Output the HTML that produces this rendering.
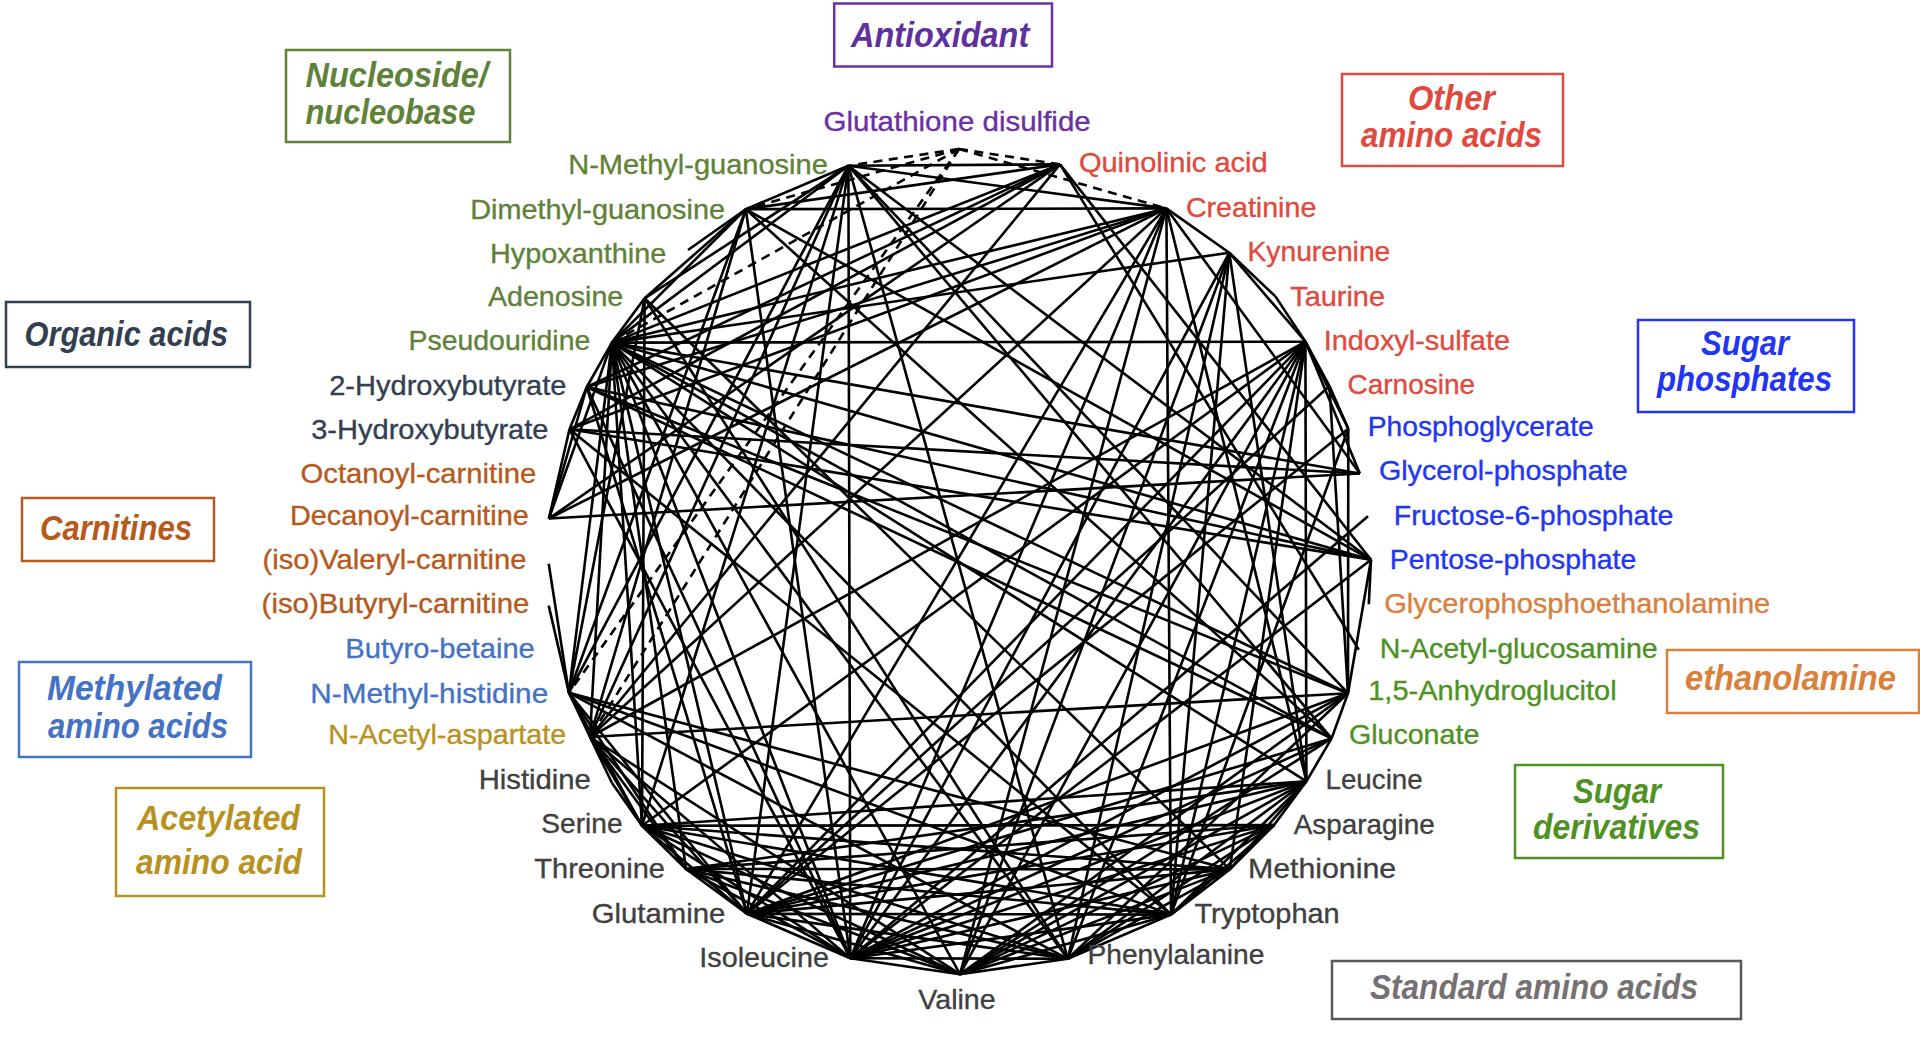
<!DOCTYPE html><html lang="en"><head><meta charset="utf-8"><title>Metabolite network</title>
<style>html,body{margin:0;padding:0;background:#fff;}body{width:1920px;height:1038px;overflow:hidden;}svg{display:block;}text{font-family:"Liberation Sans",sans-serif;}</style></head><body>
<svg width="1920" height="1038" viewBox="0 0 1920 1038">
<rect width="1920" height="1038" fill="#ffffff"/>
<g stroke="#000" stroke-width="2.6" stroke-linecap="butt" fill="none">
<line x1="586.8" y1="387" x2="569.5" y2="429.3"/>
<line x1="586.8" y1="387" x2="1348" y2="693.2"/>
<line x1="586.8" y1="387" x2="1166.4" y2="208.4"/>
<line x1="586.8" y1="387" x2="548.9" y2="518.5"/>
<line x1="586.8" y1="387" x2="1331.6" y2="738.4"/>
<line x1="586.8" y1="387" x2="746.9" y2="913.8"/>
<line x1="586.8" y1="387" x2="850.3" y2="958.2"/>
<line x1="586.8" y1="387" x2="1371" y2="559.8"/>
<line x1="586.8" y1="387" x2="611.9" y2="342.6"/>
<line x1="586.8" y1="387" x2="1060" y2="164.4"/>
<line x1="569.5" y1="429.3" x2="1166.4" y2="208.4"/>
<line x1="569.5" y1="429.3" x2="548.9" y2="518.5"/>
<line x1="569.5" y1="429.3" x2="1359.8" y2="473.5"/>
<line x1="569.5" y1="429.3" x2="850.3" y2="958.2"/>
<line x1="569.5" y1="429.3" x2="1371" y2="559.8"/>
<line x1="569.5" y1="429.3" x2="1060" y2="164.4"/>
<line x1="569.5" y1="429.3" x2="1171" y2="914.6"/>
<line x1="644.6" y1="298.3" x2="745.8" y2="209.2"/>
<line x1="644.6" y1="298.3" x2="1229.8" y2="869.4"/>
<line x1="644.6" y1="298.3" x2="848.4" y2="165.7"/>
<line x1="644.6" y1="298.3" x2="568.9" y2="692.8"/>
<line x1="644.6" y1="298.3" x2="1067.8" y2="958.8"/>
<line x1="644.6" y1="298.3" x2="611.9" y2="342.6"/>
<line x1="644.6" y1="298.3" x2="642" y2="825.7"/>
<line x1="1348" y1="693.2" x2="1329.5" y2="386"/>
<line x1="1348" y1="693.2" x2="1331.6" y2="738.4"/>
<line x1="1348" y1="693.2" x2="746.9" y2="913.8"/>
<line x1="1348" y1="693.2" x2="850.3" y2="958.2"/>
<line x1="1348" y1="693.2" x2="590" y2="737"/>
<line x1="1348" y1="693.2" x2="848.4" y2="165.7"/>
<line x1="1348" y1="693.2" x2="1348.3" y2="428.8"/>
<line x1="1348" y1="693.2" x2="1067.8" y2="958.8"/>
<line x1="1348" y1="693.2" x2="1371" y2="559.8"/>
<line x1="1348" y1="693.2" x2="611.9" y2="342.6"/>
<line x1="1348" y1="693.2" x2="960" y2="974.2"/>
<line x1="1274.1" y1="825.1" x2="746.9" y2="913.8"/>
<line x1="1274.1" y1="825.1" x2="850.3" y2="958.2"/>
<line x1="1274.1" y1="825.1" x2="1306.4" y2="781.3"/>
<line x1="1274.1" y1="825.1" x2="1229.8" y2="869.4"/>
<line x1="1274.1" y1="825.1" x2="1067.8" y2="958.8"/>
<line x1="1274.1" y1="825.1" x2="642" y2="825.7"/>
<line x1="1274.1" y1="825.1" x2="686" y2="869"/>
<line x1="1274.1" y1="825.1" x2="1171" y2="914.6"/>
<line x1="1274.1" y1="825.1" x2="960" y2="974.2"/>
<line x1="1329.5" y1="386" x2="746.9" y2="913.8"/>
<line x1="1329.5" y1="386" x2="1305.4" y2="341.7"/>
<line x1="1329.5" y1="386" x2="1348.3" y2="428.8"/>
<line x1="1166.4" y1="208.4" x2="548.9" y2="518.5"/>
<line x1="1166.4" y1="208.4" x2="745.8" y2="209.2"/>
<line x1="1166.4" y1="208.4" x2="746.9" y2="913.8"/>
<line x1="1166.4" y1="208.4" x2="1359.8" y2="473.5"/>
<line x1="1166.4" y1="208.4" x2="850.3" y2="958.2"/>
<line x1="1166.4" y1="208.4" x2="1229.3" y2="252.7"/>
<line x1="1166.4" y1="208.4" x2="1306.4" y2="781.3"/>
<line x1="1166.4" y1="208.4" x2="590" y2="737"/>
<line x1="1166.4" y1="208.4" x2="848.4" y2="165.7"/>
<line x1="1166.4" y1="208.4" x2="611.9" y2="342.6"/>
<line x1="1166.4" y1="208.4" x2="1171" y2="914.6"/>
<line x1="1166.4" y1="208.4" x2="960" y2="974.2"/>
<line x1="548.9" y1="518.5" x2="1359.8" y2="473.5"/>
<line x1="548.9" y1="518.5" x2="611.9" y2="342.6"/>
<line x1="548.9" y1="518.5" x2="1060" y2="164.4"/>
<line x1="745.8" y1="209.2" x2="1331.6" y2="738.4"/>
<line x1="745.8" y1="209.2" x2="688" y2="250"/>
<line x1="745.8" y1="209.2" x2="850.3" y2="958.2"/>
<line x1="745.8" y1="209.2" x2="590" y2="737"/>
<line x1="745.8" y1="209.2" x2="848.4" y2="165.7"/>
<line x1="745.8" y1="209.2" x2="568.9" y2="692.8"/>
<line x1="745.8" y1="209.2" x2="1371" y2="559.8"/>
<line x1="745.8" y1="209.2" x2="611.9" y2="342.6"/>
<line x1="745.8" y1="209.2" x2="1060" y2="164.4"/>
<line x1="1368" y1="516.3" x2="850.3" y2="958.2"/>
<line x1="1331.6" y1="738.4" x2="746.9" y2="913.8"/>
<line x1="1331.6" y1="738.4" x2="850.3" y2="958.2"/>
<line x1="1331.6" y1="738.4" x2="1306.4" y2="781.3"/>
<line x1="1331.6" y1="738.4" x2="848.4" y2="165.7"/>
<line x1="1331.6" y1="738.4" x2="611.9" y2="342.6"/>
<line x1="1331.6" y1="738.4" x2="960" y2="974.2"/>
<line x1="746.9" y1="913.8" x2="850.3" y2="958.2"/>
<line x1="746.9" y1="913.8" x2="1305.4" y2="341.7"/>
<line x1="746.9" y1="913.8" x2="1306.4" y2="781.3"/>
<line x1="746.9" y1="913.8" x2="1229.8" y2="869.4"/>
<line x1="746.9" y1="913.8" x2="590" y2="737"/>
<line x1="746.9" y1="913.8" x2="848.4" y2="165.7"/>
<line x1="746.9" y1="913.8" x2="568.9" y2="692.8"/>
<line x1="746.9" y1="913.8" x2="1348.3" y2="428.8"/>
<line x1="746.9" y1="913.8" x2="1067.8" y2="958.8"/>
<line x1="746.9" y1="913.8" x2="611.9" y2="342.6"/>
<line x1="746.9" y1="913.8" x2="642" y2="825.7"/>
<line x1="746.9" y1="913.8" x2="686" y2="869"/>
<line x1="746.9" y1="913.8" x2="1171" y2="914.6"/>
<line x1="746.9" y1="913.8" x2="960" y2="974.2"/>
<line x1="1359.8" y1="473.5" x2="1305.4" y2="341.7"/>
<line x1="1359.8" y1="473.5" x2="611.9" y2="342.6"/>
<line x1="1368.8" y1="604.3" x2="1371" y2="559.8"/>
<line x1="612" y1="783" x2="590" y2="737"/>
<line x1="612" y1="783" x2="642" y2="825.7"/>
<line x1="548.7" y1="605.6" x2="568.9" y2="692.8"/>
<line x1="850.3" y1="958.2" x2="1305.4" y2="341.7"/>
<line x1="850.3" y1="958.2" x2="1229.3" y2="252.7"/>
<line x1="850.3" y1="958.2" x2="1306.4" y2="781.3"/>
<line x1="850.3" y1="958.2" x2="1229.8" y2="869.4"/>
<line x1="850.3" y1="958.2" x2="590" y2="737"/>
<line x1="850.3" y1="958.2" x2="848.4" y2="165.7"/>
<line x1="850.3" y1="958.2" x2="1067.8" y2="958.8"/>
<line x1="850.3" y1="958.2" x2="1371" y2="559.8"/>
<line x1="850.3" y1="958.2" x2="611.9" y2="342.6"/>
<line x1="850.3" y1="958.2" x2="642" y2="825.7"/>
<line x1="850.3" y1="958.2" x2="686" y2="869"/>
<line x1="850.3" y1="958.2" x2="1171" y2="914.6"/>
<line x1="850.3" y1="958.2" x2="960" y2="974.2"/>
<line x1="1305.4" y1="341.7" x2="1229.3" y2="252.7"/>
<line x1="1305.4" y1="341.7" x2="1306.4" y2="781.3"/>
<line x1="1305.4" y1="341.7" x2="1229.8" y2="869.4"/>
<line x1="1305.4" y1="341.7" x2="590" y2="737"/>
<line x1="1305.4" y1="341.7" x2="1348.3" y2="428.8"/>
<line x1="1305.4" y1="341.7" x2="1067.8" y2="958.8"/>
<line x1="1305.4" y1="341.7" x2="611.9" y2="342.6"/>
<line x1="1305.4" y1="341.7" x2="642" y2="825.7"/>
<line x1="1305.4" y1="341.7" x2="1275.4" y2="296.4"/>
<line x1="1305.4" y1="341.7" x2="1171" y2="914.6"/>
<line x1="1305.4" y1="341.7" x2="960" y2="974.2"/>
<line x1="548.7" y1="563.8" x2="568.9" y2="692.8"/>
<line x1="1229.3" y1="252.7" x2="1306.4" y2="781.3"/>
<line x1="1229.3" y1="252.7" x2="1067.8" y2="958.8"/>
<line x1="1229.3" y1="252.7" x2="611.9" y2="342.6"/>
<line x1="1229.3" y1="252.7" x2="1275.4" y2="296.4"/>
<line x1="1229.3" y1="252.7" x2="1171" y2="914.6"/>
<line x1="1229.3" y1="252.7" x2="960" y2="974.2"/>
<line x1="1306.4" y1="781.3" x2="1229.8" y2="869.4"/>
<line x1="1306.4" y1="781.3" x2="1067.8" y2="958.8"/>
<line x1="1306.4" y1="781.3" x2="611.9" y2="342.6"/>
<line x1="1306.4" y1="781.3" x2="642" y2="825.7"/>
<line x1="1306.4" y1="781.3" x2="686" y2="869"/>
<line x1="1306.4" y1="781.3" x2="1171" y2="914.6"/>
<line x1="1306.4" y1="781.3" x2="960" y2="974.2"/>
<line x1="1229.8" y1="869.4" x2="568.9" y2="692.8"/>
<line x1="1229.8" y1="869.4" x2="1067.8" y2="958.8"/>
<line x1="1229.8" y1="869.4" x2="642" y2="825.7"/>
<line x1="1229.8" y1="869.4" x2="686" y2="869"/>
<line x1="1229.8" y1="869.4" x2="1171" y2="914.6"/>
<line x1="1229.8" y1="869.4" x2="960" y2="974.2"/>
<line x1="590" y1="737" x2="848.4" y2="165.7"/>
<line x1="590" y1="737" x2="568.9" y2="692.8"/>
<line x1="590" y1="737" x2="611.9" y2="342.6"/>
<line x1="590" y1="737" x2="1060" y2="164.4"/>
<line x1="590" y1="737" x2="642" y2="825.7"/>
<line x1="590" y1="737" x2="686" y2="869"/>
<line x1="590" y1="737" x2="960" y2="974.2"/>
<line x1="1358.8" y1="649.7" x2="1060" y2="164.4"/>
<line x1="848.4" y1="165.7" x2="568.9" y2="692.8"/>
<line x1="848.4" y1="165.7" x2="1067.8" y2="958.8"/>
<line x1="848.4" y1="165.7" x2="1371" y2="559.8"/>
<line x1="848.4" y1="165.7" x2="611.9" y2="342.6"/>
<line x1="848.4" y1="165.7" x2="1060" y2="164.4"/>
<line x1="848.4" y1="165.7" x2="642" y2="825.7"/>
<line x1="568.9" y1="692.8" x2="1067.8" y2="958.8"/>
<line x1="568.9" y1="692.8" x2="611.9" y2="342.6"/>
<line x1="568.9" y1="692.8" x2="642" y2="825.7"/>
<line x1="568.9" y1="692.8" x2="686" y2="869"/>
<line x1="568.9" y1="692.8" x2="1171" y2="914.6"/>
<line x1="1348.3" y1="428.8" x2="1171" y2="914.6"/>
<line x1="1067.8" y1="958.8" x2="611.9" y2="342.6"/>
<line x1="1067.8" y1="958.8" x2="642" y2="825.7"/>
<line x1="1067.8" y1="958.8" x2="686" y2="869"/>
<line x1="1067.8" y1="958.8" x2="1171" y2="914.6"/>
<line x1="1067.8" y1="958.8" x2="960" y2="974.2"/>
<line x1="1371" y1="559.8" x2="611.9" y2="342.6"/>
<line x1="1371" y1="559.8" x2="1060" y2="164.4"/>
<line x1="611.9" y1="342.6" x2="1060" y2="164.4"/>
<line x1="611.9" y1="342.6" x2="642" y2="825.7"/>
<line x1="611.9" y1="342.6" x2="686" y2="869"/>
<line x1="611.9" y1="342.6" x2="1171" y2="914.6"/>
<line x1="611.9" y1="342.6" x2="960" y2="974.2"/>
<line x1="642" y1="825.7" x2="686" y2="869"/>
<line x1="642" y1="825.7" x2="1171" y2="914.6"/>
<line x1="642" y1="825.7" x2="960" y2="974.2"/>
<line x1="686" y1="869" x2="1171" y2="914.6"/>
<line x1="686" y1="869" x2="960" y2="974.2"/>
<line x1="1171" y1="914.6" x2="960" y2="974.2"/>
</g>
<g stroke="#000" stroke-width="2.6" stroke-dasharray="9 6.5" fill="none">
<line x1="959" y1="149" x2="848.4" y2="165.7"/>
<line x1="959" y1="149" x2="745.8" y2="209.2"/>
<line x1="959" y1="149" x2="611.9" y2="342.6"/>
<line x1="959" y1="149" x2="568.9" y2="692.8"/>
<line x1="959" y1="149" x2="590" y2="737"/>
<line x1="959" y1="149" x2="1060" y2="164.4"/>
<line x1="959" y1="149" x2="1166.4" y2="208.4"/>
</g>
<g font-size="27.8">
<text x="823.5" y="130.5" fill="#6B30A3" stroke="#6B30A3" stroke-width="0.35" textLength="267.2" lengthAdjust="spacingAndGlyphs">Glutathione disulfide</text>
<text x="1078.9" y="172.3" fill="#E04A3E" stroke="#E04A3E" stroke-width="0.35" textLength="188.8" lengthAdjust="spacingAndGlyphs">Quinolinic acid</text>
<text x="1185.9" y="216.8" fill="#E04A3E" stroke="#E04A3E" stroke-width="0.35" textLength="130.4" lengthAdjust="spacingAndGlyphs">Creatinine</text>
<text x="1247.5" y="261" fill="#E04A3E" stroke="#E04A3E" stroke-width="0.35" textLength="142.8" lengthAdjust="spacingAndGlyphs">Kynurenine</text>
<text x="1290.2" y="305.5" fill="#E04A3E" stroke="#E04A3E" stroke-width="0.35" textLength="94.8" lengthAdjust="spacingAndGlyphs">Taurine</text>
<text x="1323.7" y="350" fill="#E04A3E" stroke="#E04A3E" stroke-width="0.35" textLength="186.3" lengthAdjust="spacingAndGlyphs">Indoxyl-sulfate</text>
<text x="1347.5" y="394.3" fill="#E04A3E" stroke="#E04A3E" stroke-width="0.35" textLength="127.5" lengthAdjust="spacingAndGlyphs">Carnosine</text>
<text x="1367.7" y="436.3" fill="#2135F3" stroke="#2135F3" stroke-width="0.35" textLength="226.0" lengthAdjust="spacingAndGlyphs">Phosphoglycerate</text>
<text x="1378.9" y="480.3" fill="#2135F3" stroke="#2135F3" stroke-width="0.35" textLength="248.8" lengthAdjust="spacingAndGlyphs">Glycerol-phosphate</text>
<text x="1393.7" y="525" fill="#2135F3" stroke="#2135F3" stroke-width="0.35" textLength="279.6" lengthAdjust="spacingAndGlyphs">Fructose-6-phosphate</text>
<text x="1389.7" y="569.3" fill="#2135F3" stroke="#2135F3" stroke-width="0.35" textLength="246.6" lengthAdjust="spacingAndGlyphs">Pentose-phosphate</text>
<text x="1384.2" y="613.3" fill="#D9803C" stroke="#D9803C" stroke-width="0.35" textLength="386.1" lengthAdjust="spacingAndGlyphs">Glycerophosphoethanolamine</text>
<text x="1379.7" y="657.7" fill="#4E9223" stroke="#4E9223" stroke-width="0.35" textLength="278.0" lengthAdjust="spacingAndGlyphs">N-Acetyl-glucosamine</text>
<text x="1368.2" y="700" fill="#4E9223" stroke="#4E9223" stroke-width="0.35" textLength="248.5" lengthAdjust="spacingAndGlyphs">1,5-Anhydroglucitol</text>
<text x="1348.9" y="744.3" fill="#4E9223" stroke="#4E9223" stroke-width="0.35" textLength="130.4" lengthAdjust="spacingAndGlyphs">Gluconate</text>
<text x="1325.5" y="789" fill="#404040" stroke="#404040" stroke-width="0.35" textLength="97.2" lengthAdjust="spacingAndGlyphs">Leucine</text>
<text x="1293.7" y="833.5" fill="#404040" stroke="#404040" stroke-width="0.35" textLength="141.0" lengthAdjust="spacingAndGlyphs">Asparagine</text>
<text x="1247.9" y="878.2" fill="#404040" stroke="#404040" stroke-width="0.35" textLength="148.3" lengthAdjust="spacingAndGlyphs">Methionine</text>
<text x="1194.5" y="922.5" fill="#404040" stroke="#404040" stroke-width="0.35" textLength="145.1" lengthAdjust="spacingAndGlyphs">Tryptophan</text>
<text x="1087.5" y="964.2" fill="#404040" stroke="#404040" stroke-width="0.35" textLength="176.9" lengthAdjust="spacingAndGlyphs">Phenylalanine</text>
<text x="918.3" y="1009.2" fill="#404040" stroke="#404040" stroke-width="0.35" textLength="77.4" lengthAdjust="spacingAndGlyphs">Valine</text>
<text x="568.2" y="174.3" fill="#5F8239" stroke="#5F8239" stroke-width="0.35" textLength="259.6" lengthAdjust="spacingAndGlyphs">N-Methyl-guanosine</text>
<text x="470.2" y="218.6" fill="#5F8239" stroke="#5F8239" stroke-width="0.35" textLength="254.8" lengthAdjust="spacingAndGlyphs">Dimethyl-guanosine</text>
<text x="490.0" y="263.3" fill="#5F8239" stroke="#5F8239" stroke-width="0.35" textLength="176.2" lengthAdjust="spacingAndGlyphs">Hypoxanthine</text>
<text x="487.9" y="305.6" fill="#5F8239" stroke="#5F8239" stroke-width="0.35" textLength="135.4" lengthAdjust="spacingAndGlyphs">Adenosine</text>
<text x="408.5" y="350.3" fill="#5F8239" stroke="#5F8239" stroke-width="0.35" textLength="181.8" lengthAdjust="spacingAndGlyphs">Pseudouridine</text>
<text x="329.2" y="394.5" fill="#333F50" stroke="#333F50" stroke-width="0.35" textLength="237.3" lengthAdjust="spacingAndGlyphs">2-Hydroxybutyrate</text>
<text x="311.2" y="438.5" fill="#333F50" stroke="#333F50" stroke-width="0.35" textLength="237.3" lengthAdjust="spacingAndGlyphs">3-Hydroxybutyrate</text>
<text x="300.5" y="482.5" fill="#B5591D" stroke="#B5591D" stroke-width="0.35" textLength="235.8" lengthAdjust="spacingAndGlyphs">Octanoyl-carnitine</text>
<text x="290.0" y="525" fill="#B5591D" stroke="#B5591D" stroke-width="0.35" textLength="238.8" lengthAdjust="spacingAndGlyphs">Decanoyl-carnitine</text>
<text x="262.5" y="569" fill="#B5591D" stroke="#B5591D" stroke-width="0.35" textLength="263.9" lengthAdjust="spacingAndGlyphs">(iso)Valeryl-carnitine</text>
<text x="261.6" y="613" fill="#B5591D" stroke="#B5591D" stroke-width="0.35" textLength="267.8" lengthAdjust="spacingAndGlyphs">(iso)Butyryl-carnitine</text>
<text x="345.3" y="657.6" fill="#4472C4" stroke="#4472C4" stroke-width="0.35" textLength="189.5" lengthAdjust="spacingAndGlyphs">Butyro-betaine</text>
<text x="310.3" y="702.6" fill="#4472C4" stroke="#4472C4" stroke-width="0.35" textLength="237.9" lengthAdjust="spacingAndGlyphs">N-Methyl-histidine</text>
<text x="328.3" y="744.2" fill="#B8921F" stroke="#B8921F" stroke-width="0.35" textLength="237.9" lengthAdjust="spacingAndGlyphs">N-Acetyl-aspartate</text>
<text x="478.7" y="789.3" fill="#404040" stroke="#404040" stroke-width="0.35" textLength="112.2" lengthAdjust="spacingAndGlyphs">Histidine</text>
<text x="541.3" y="833.3" fill="#404040" stroke="#404040" stroke-width="0.35" textLength="81.3" lengthAdjust="spacingAndGlyphs">Serine</text>
<text x="534.3" y="878.3" fill="#404040" stroke="#404040" stroke-width="0.35" textLength="130.6" lengthAdjust="spacingAndGlyphs">Threonine</text>
<text x="591.7" y="922.8" fill="#404040" stroke="#404040" stroke-width="0.35" textLength="133.6" lengthAdjust="spacingAndGlyphs">Glutamine</text>
<text x="699.3" y="966.9" fill="#404040" stroke="#404040" stroke-width="0.35" textLength="129.6" lengthAdjust="spacingAndGlyphs">Isoleucine</text>
</g>
<rect x="286" y="50" width="224" height="92" fill="none" stroke="#5F8239" stroke-width="2.5"/>
<text x="305.5" y="87.3" fill="#5F8239" font-size="34.5" font-weight="bold" font-style="italic" textLength="182.5" lengthAdjust="spacingAndGlyphs">Nucleoside/</text>
<text x="305.5" y="123.8" fill="#5F8239" font-size="34.5" font-weight="bold" font-style="italic" textLength="170.0" lengthAdjust="spacingAndGlyphs">nucleobase</text>
<rect x="6" y="302" width="244" height="65" fill="none" stroke="#333F50" stroke-width="2.5"/>
<text x="24.5" y="345.5" fill="#333F50" font-size="34.5" font-weight="bold" font-style="italic" textLength="203.5" lengthAdjust="spacingAndGlyphs">Organic acids</text>
<rect x="22" y="498" width="192" height="63" fill="none" stroke="#B5591D" stroke-width="2.5"/>
<text x="40" y="539.7" fill="#B5591D" font-size="34.5" font-weight="bold" font-style="italic" textLength="152" lengthAdjust="spacingAndGlyphs">Carnitines</text>
<rect x="19" y="662" width="232" height="95" fill="none" stroke="#4472C4" stroke-width="2.5"/>
<text x="47" y="700" fill="#4472C4" font-size="34.5" font-weight="bold" font-style="italic" textLength="175" lengthAdjust="spacingAndGlyphs">Methylated</text>
<text x="48" y="738" fill="#4472C4" font-size="34.5" font-weight="bold" font-style="italic" textLength="180" lengthAdjust="spacingAndGlyphs">amino acids</text>
<rect x="116" y="788" width="208" height="108" fill="none" stroke="#B8921F" stroke-width="2.5"/>
<text x="137" y="830" fill="#B8921F" font-size="34.5" font-weight="bold" font-style="italic" textLength="163" lengthAdjust="spacingAndGlyphs">Acetylated</text>
<text x="136" y="874" fill="#B8921F" font-size="34.5" font-weight="bold" font-style="italic" textLength="166" lengthAdjust="spacingAndGlyphs">amino acid</text>
<rect x="834.2" y="3.5" width="217.79999999999995" height="63.0" fill="none" stroke="#6B30A3" stroke-width="2.5"/>
<text x="851" y="47.3" fill="#6030A0" font-size="34.5" font-weight="bold" font-style="italic" textLength="178.20000000000005" lengthAdjust="spacingAndGlyphs">Antioxidant</text>
<rect x="1342" y="74" width="221" height="92" fill="none" stroke="#E04A3E" stroke-width="2.5"/>
<text x="1408" y="110" fill="#E04A3E" font-size="34.5" font-weight="bold" font-style="italic" textLength="87" lengthAdjust="spacingAndGlyphs">Other</text>
<text x="1361" y="147" fill="#E04A3E" font-size="34.5" font-weight="bold" font-style="italic" textLength="181" lengthAdjust="spacingAndGlyphs">amino acids</text>
<rect x="1638" y="320" width="216" height="92" fill="none" stroke="#2135F3" stroke-width="2.5"/>
<text x="1701" y="355" fill="#2135F3" font-size="34.5" font-weight="bold" font-style="italic" textLength="88" lengthAdjust="spacingAndGlyphs">Sugar</text>
<text x="1657" y="391" fill="#2135F3" font-size="34.5" font-weight="bold" font-style="italic" textLength="175" lengthAdjust="spacingAndGlyphs">phosphates</text>
<rect x="1667" y="650" width="252" height="63" fill="none" stroke="#D9803C" stroke-width="2.5"/>
<text x="1685" y="690" fill="#D9803C" font-size="34.5" font-weight="bold" font-style="italic" textLength="211" lengthAdjust="spacingAndGlyphs">ethanolamine</text>
<rect x="1515" y="765" width="208" height="93" fill="none" stroke="#4E9223" stroke-width="2.5"/>
<text x="1573" y="803" fill="#4E9223" font-size="34.5" font-weight="bold" font-style="italic" textLength="88" lengthAdjust="spacingAndGlyphs">Sugar</text>
<text x="1533" y="839" fill="#4E9223" font-size="34.5" font-weight="bold" font-style="italic" textLength="167" lengthAdjust="spacingAndGlyphs">derivatives</text>
<rect x="1332" y="961" width="409" height="58" fill="none" stroke="#595959" stroke-width="2.5"/>
<text x="1370" y="999" fill="#767171" font-size="34.5" font-weight="bold" font-style="italic" textLength="328" lengthAdjust="spacingAndGlyphs">Standard amino acids</text>
</svg></body></html>
